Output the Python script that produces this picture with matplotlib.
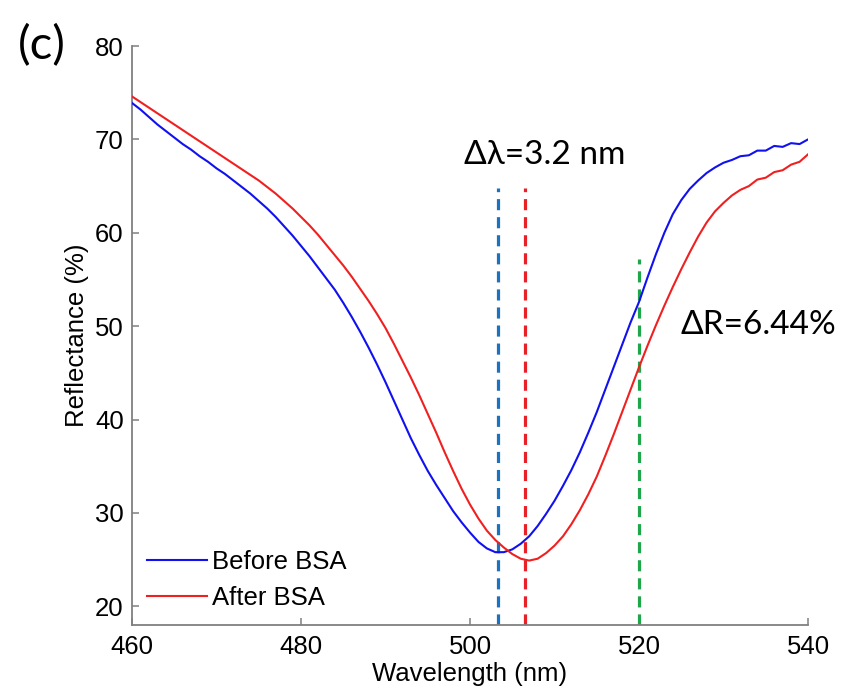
import matplotlib
matplotlib.use("Agg")
import matplotlib.pyplot as plt

# ---------------- data ----------------
wavelength = list(range(460, 541))  # nm, 1 nm step

before_bsa = [
    73.9, 73.2, 72.4, 71.6, 70.9, 70.2, 69.5, 68.9, 68.2, 67.6,   # 460-469
    66.9, 66.3, 65.6, 64.9, 64.2, 63.4, 62.6, 61.7, 60.7, 59.7,   # 470-479
    58.6, 57.5, 56.3, 55.1, 53.9, 52.5, 51.0, 49.4, 47.7, 45.9,   # 480-489
    44.0, 42.0, 40.0, 38.0, 36.2, 34.5, 33.0, 31.6, 30.2, 29.0,   # 490-499
    27.9, 26.9, 26.2, 25.8, 25.8, 26.1, 26.7, 27.5, 28.6, 29.9,   # 500-509
    31.3, 32.9, 34.6, 36.5, 38.6, 40.8, 43.2, 45.6, 48.0, 50.4,   # 510-519
    52.6, 55.2, 57.7, 60.0, 62.0, 63.5, 64.7, 65.6, 66.4, 67.0,   # 520-529
    67.5, 67.8, 68.2, 68.3, 68.8, 68.8, 69.3, 69.2, 69.6, 69.5,   # 530-539
    70.0,                                                         # 540
]

after_bsa = [
    74.6, 74.0, 73.4, 72.8, 72.2, 71.6, 71.0, 70.4, 69.8, 69.2,   # 460-469
    68.6, 68.0, 67.4, 66.8, 66.2, 65.6, 64.9, 64.2, 63.4, 62.6,   # 470-479
    61.7, 60.8, 59.8, 58.7, 57.6, 56.5, 55.3, 54.0, 52.7, 51.3,   # 480-489
    49.8, 48.1, 46.3, 44.5, 42.6, 40.6, 38.6, 36.5, 34.5, 32.6,   # 490-499
    30.9, 29.4, 28.1, 27.1, 26.3, 25.6, 25.1, 24.9, 25.1, 25.7,   # 500-509
    26.5, 27.5, 28.8, 30.3, 32.0, 33.9, 36.1, 38.4, 40.8, 43.2,   # 510-519
    45.6, 47.9, 50.1, 52.2, 54.2, 56.1, 57.9, 59.6, 61.1, 62.3,   # 520-529
    63.2, 64.0, 64.6, 65.0, 65.7, 65.9, 66.5, 66.7, 67.3, 67.6,   # 530-539
    68.4,                                                         # 540
]

peak_before = 503.3     # nm
peak_after = 506.5      # nm
delta_r_wavelength = 520.0  # nm
peak_line_top = 64.8
dr_line_top = 57.2

x_ticks = [460, 480, 500, 520, 540]
y_ticks = [20, 30, 40, 50, 60, 70, 80]

# ---------------- figure ----------------
plt.rcParams["font.family"] = ["Liberation Sans", "DejaVu Sans"]
plt.rcParams["lines.scale_dashes"] = False

fig = plt.figure(figsize=(8.43, 6.93), dpi=100)
ax = fig.add_axes([0.1566, 0.0981, 0.8019, 0.8355])

ax.plot(wavelength, before_bsa, color="#1010f0", lw=1.5, label="Before BSA", zorder=3)
ax.plot(wavelength, after_bsa, color="#f02020", lw=1.5, label="After BSA", zorder=3)

ax.vlines(peak_before, 18, peak_line_top, colors="#1a72c0", lw=2.3,
          linestyles=(0, (8, 5)), zorder=2)
ax.vlines(peak_after, 18, peak_line_top, colors="#e82028", lw=2.3,
          linestyles=(0, (8, 5)), zorder=2)
ax.vlines(delta_r_wavelength, 18, dr_line_top, colors="#1fa54a", lw=2.3,
          linestyles=(0, (8, 5)), zorder=2)

ax.set_xlim(460, 540)
ax.set_ylim(18, 80)
ax.set_xticks(x_ticks)
ax.set_yticks(y_ticks)

for s in ["top", "right"]:
    ax.spines[s].set_visible(False)
for s in ["left", "bottom"]:
    ax.spines[s].set_color("#808080")
    ax.spines[s].set_linewidth(1.3)
ax.spines["left"].set_bounds(18, 80)

ax.tick_params(direction="in", length=5, width=1.1, color="#808080",
               labelsize=18.5, labelcolor="black")
ax.tick_params(axis="x", pad=7)
ax.tick_params(axis="y", pad=6)

ax.set_xlabel("Wavelength (nm)", fontsize=18.5, labelpad=2)
ax.set_ylabel("Reflectance (%)", fontsize=18.5, labelpad=4)

ax.text(0.61, 0.812, "\u0394\u03bb=3.2 nm", transform=ax.transAxes,
        fontsize=24, family=["Lato", "DejaVu Sans"], ha="center", va="center")
ax.text(0.927, 0.518, "\u0394R=6.44%", transform=ax.transAxes,
        fontsize=24, family=["Lato", "DejaVu Sans"], ha="center", va="center")

fig.text(0.05, 0.934, "(c)", fontsize=34, family=["Lato", "DejaVu Sans"],
         ha="center", va="center")

leg = ax.legend(loc="lower left", bbox_to_anchor=(0.0, 0.0), frameon=False,
                fontsize=18.5, handlelength=2.3, handletextpad=0.2,
                labelspacing=0.45, borderaxespad=0.2)

fig.savefig("out.png", dpi=100)
